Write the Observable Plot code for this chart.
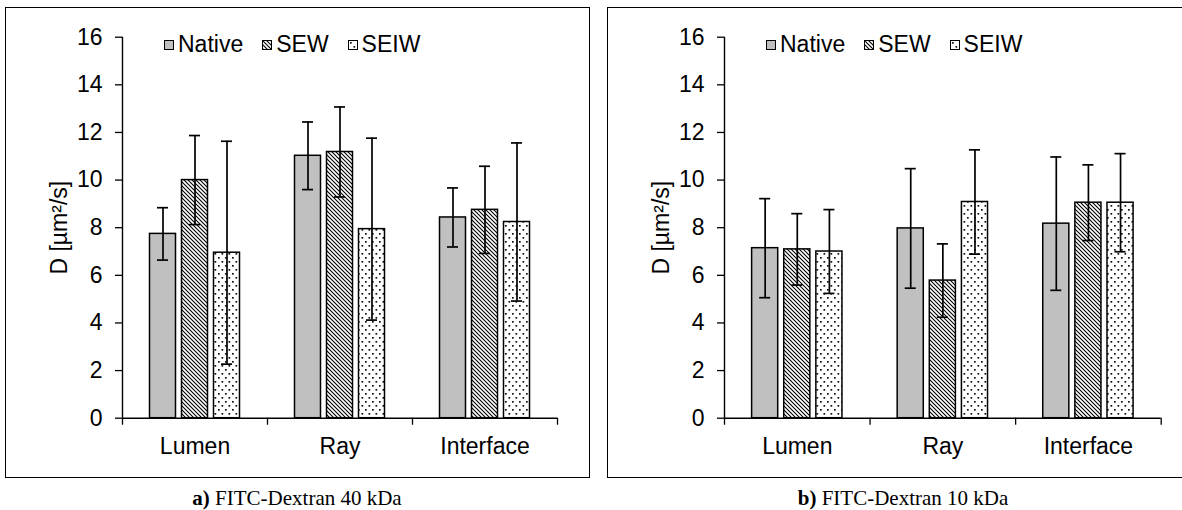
<!DOCTYPE html>
<html>
<head>
<meta charset="utf-8">
<script src="https://cdn.jsdelivr.net/npm/d3@7"></script>
<script src="https://cdn.jsdelivr.net/npm/@observablehq/plot@0.6"></script>
<style>
  html, body { margin: 0; padding: 0; background: #fff; }
  body { width: 1182px; height: 510px; position: relative; overflow: hidden; font-family: "Liberation Sans", Arial, sans-serif; }
  .frame { position: absolute; box-sizing: border-box; border: 1.6px solid #000; }
  .chart { position: absolute; top: 0; }
  .legend { position: absolute; top: 33px; display: flex; align-items: center; font-size: 23px; color: #000; line-height: 23px; }
  .legend .sw { display: inline-block; width: 10px; height: 10px; box-sizing: border-box; border: 1px solid #000; margin-right: 4px; }
  .legend .item { display: flex; align-items: center; margin-right: 19px; }
  .caption { position: absolute; top: 486px; font-family: "Liberation Serif", "Times New Roman", serif; font-size: 21px; color: #000; text-align: center; white-space: nowrap; }
</style>
</head>
<body>
<svg width="0" height="0" style="position:absolute">
  <defs>
    <pattern id="hatch" patternUnits="userSpaceOnUse" width="4" height="4">
      <rect width="4" height="4" fill="#fff"/>
      <path d="M-1,-1L5,5M-1,3L1,5M3,-1L5,1" stroke="#000" stroke-width="1.1"/>
    </pattern>
    <pattern id="dots" patternUnits="userSpaceOnUse" width="7" height="8">
      <rect width="7" height="8" fill="#fff"/>
      <rect x="1" y="1" width="1.7" height="1.7" fill="#111"/>
      <rect x="4.5" y="5" width="1.7" height="1.7" fill="#111"/>
    </pattern>
  </defs>
</svg>
<div class="frame" style="left:5px; top:7px; width:585px; height:471px;"></div>
<div class="frame" style="left:607px; top:7px; width:590px; height:471px;"></div>
<div id="left" class="chart" style="left:0px;"></div>
<div id="right" class="chart" style="left:602px;"></div>
<div class="caption" style="left:97px; width:400px;"><b>a)</b> FITC-Dextran 40 kDa</div>
<div class="caption" style="left:703px; width:400px;"><b>b)</b> FITC-Dextran 10 kDa</div>
<script>
const categories = ["Lumen", "Ray", "Interface"];
const seriesNames = ["Native", "SEW", "SEIW"];
const yTicks = [0, 2, 4, 6, 8, 10, 12, 14, 16];
const yLabel = "D [µm²/s]";

// a) FITC-Dextran 40 kDa
const a_native = [7.74, 11.02, 8.43];
const a_nativeErr = [1.10, 1.42, 1.24];
const a_sew = [10.0, 11.18, 8.75];
const a_sewErr = [1.87, 1.89, 1.83];
const a_seiw = [6.95, 7.94, 8.24];
const a_seiwErr = [4.68, 3.82, 3.32];

// b) FITC-Dextran 10 kDa
const b_native = [7.14, 7.97, 8.17];
const b_nativeErr = [2.08, 2.51, 2.80];
const b_sew = [7.09, 5.78, 9.05];
const b_sewErr = [1.50, 1.54, 1.59];
const b_seiw = [7.00, 9.08, 9.05];
const b_seiwErr = [1.76, 2.19, 2.06];

const fills = ["#c0c0c0", "url(#hatch)", "url(#dots)"];

function chart(means, errs, width, marginRight) {
  const rows = [];
  seriesNames.forEach((s, si) => categories.forEach((c, ci) =>
    rows.push({series: s, si, ci, v: means[si][ci], e: errs[si][ci]})));
  const step = 32 / 145, bw = 26 / 145, cap = 5.5 / 145;
  const cx = d => d.ci + 0.5 + (d.si - 1) * step;
  return Plot.plot({
    width, height: 480,
    marginLeft: 122, marginRight, marginTop: 36.7, marginBottom: 62.3,
    x: {domain: [0, categories.length], axis: null},
    y: {domain: [0, 16], axis: null},
    style: {fontFamily: "'Liberation Sans', Arial, sans-serif", fontSize: "23px", color: "#000", background: "transparent", overflow: "visible"},
    marks: [
      ...seriesNames.map((s, si) => Plot.rect(rows.filter(d => d.si === si), {
        x1: d => cx(d) - bw / 2, x2: d => cx(d) + bw / 2, y1: 0, y2: "v",
        fill: fills[si], stroke: "#000", strokeWidth: 1.5
      })),
      Plot.ruleX(rows, {x: cx, y1: d => d.v - d.e, y2: d => d.v + d.e, stroke: "#000", strokeWidth: 1.7}),
      Plot.ruleY(rows, {y: d => d.v + d.e, x1: d => cx(d) - cap, x2: d => cx(d) + cap, stroke: "#000", strokeWidth: 1.7}),
      Plot.ruleY(rows, {y: d => d.v - d.e, x1: d => cx(d) - cap, x2: d => cx(d) + cap, stroke: "#000", strokeWidth: 1.7}),
      Plot.ruleX([0], {y1: 0, y2: 16, stroke: "#000", strokeWidth: 1.4}),
      Plot.ruleY([0], {x1: 0, x2: categories.length, stroke: "#000", strokeWidth: 1.4}),
      Plot.axisY({ticks: yTicks, tickSize: 7, tickPadding: 13, fontSize: 23, strokeWidth: 1.3,
        label: yLabel, labelAnchor: "center", labelOffset: 72, labelArrow: "none"}),
      Plot.axisX({ticks: d3.range(categories.length + 1), tickSize: 7, tickFormat: () => "", label: null, strokeWidth: 1.3}),
      Plot.axisX({ticks: categories.map((c, i) => i + 0.5), tickSize: 0, tickPadding: 19,
        tickFormat: t => categories[Math.floor(t)], fontSize: 23, label: null})
    ]
  });
}

function legend(left) {
  const div = document.createElement("div");
  div.className = "legend";
  div.style.left = left + "px";
  seriesNames.forEach((s, i) => {
    const item = document.createElement("span");
    item.className = "item";
    const sw = document.createElement("span");
    sw.className = "sw";
    sw.style.background = i === 0 ? fills[0] : "#fff";
    if (i > 0) {
      sw.innerHTML = `<svg width="8" height="8" style="display:block"><rect width="8" height="8" fill="${fills[i]}"/></svg>`;
    }
    item.appendChild(sw);
    item.appendChild(document.createTextNode(s));
    div.appendChild(item);
  });
  document.body.appendChild(div);
}

document.getElementById("left").appendChild(
  chart([a_native, a_sew, a_seiw], [a_nativeErr, a_sewErr, a_seiwErr], 590, 33));
document.getElementById("right").appendChild(
  chart([b_native, b_sew, b_seiw], [b_nativeErr, b_sewErr, b_seiwErr], 580, 21.3));
legend(164);
legend(766);
</script>
</body>
</html>
